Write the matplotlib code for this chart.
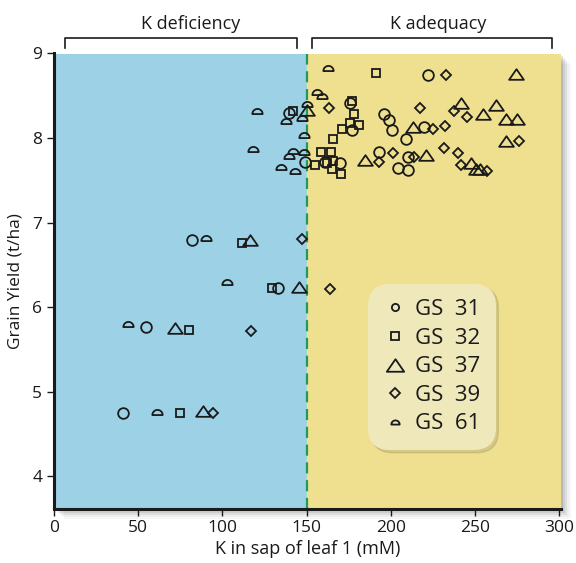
#!/usr/bin/env python3
# Grain yield vs K in sap of leaf 1, five growth stages, K deficiency / adequacy zones
import numpy as np
import matplotlib
matplotlib.use("Agg")
import matplotlib.pyplot as plt
import matplotlib.path as mpath
import matplotlib.patches as mpatches
from matplotlib.lines import Line2D

plt.rcParams['font.family'] = ['Open Sans', 'DejaVu Sans']

# ---------------------------------------------------------------------------
# Data
# ---------------------------------------------------------------------------
gs31_x = [41, 54.4, 133, 82, 139.6, 149.3, 175.7, 176.7, 160.8, 169.5, 196, 198.6,
          200.4, 208.9, 193, 210.3, 204.5, 210.3, 219.6, 222.2]
gs31_y = [4.75, 5.77, 6.23, 6.79, 8.30, 7.72, 8.42, 8.10, 7.72, 7.71, 8.29, 8.21,
          8.09, 7.99, 7.83, 7.78, 7.65, 7.62, 8.13, 8.74]

gs32_x = [74.8, 80.3, 129.4, 111.8, 141.6, 191.1, 176.7, 178.4, 175.7, 180.8, 170.7,
          165.6, 158.3, 164.6, 155.2, 161.8, 165.8, 164.8, 170.1]
gs32_y = [4.75, 5.73, 6.23, 6.76, 8.32, 8.77, 8.44, 8.29, 8.18, 8.15, 8.11,
          7.99, 7.84, 7.84, 7.68, 7.71, 7.73, 7.63, 7.58]

gs37_x = [88.2, 71.6, 145.2, 116.3, 150, 184.8, 213.3, 220.8, 241.7, 254.9, 262.7,
          268.1, 274.6, 274, 268.6, 247.5, 250.6, 253]
gs37_y = [4.77, 5.75, 6.24, 6.80, 8.33, 7.74, 8.13, 7.80, 8.42, 8.28, 8.39,
          8.22, 8.23, 8.76, 7.97, 7.70, 7.64, 7.64]

gs39_x = [94.6, 117, 163.8, 147, 163.2, 193, 201, 214, 217.2, 224.9, 232, 237.5,
          245.2, 231.5, 239.7, 241.5, 257.2, 276, 232.6]
gs39_y = [4.75, 5.72, 6.22, 6.81, 8.35, 7.72, 7.82, 7.78, 8.36, 8.11, 8.14, 8.32,
          8.25, 7.88, 7.82, 7.68, 7.61, 7.96, 8.74]

gs61_x = [61.3, 44.1, 103, 90, 120.7, 118, 138, 147.5, 148.2, 150.3, 139.6, 142,
          148.3, 134.5, 142.8, 155.9, 159, 162.8]
gs61_y = [4.76, 5.80, 6.30, 6.82, 8.32, 7.87, 8.20, 8.24, 8.04, 8.40, 7.79, 7.85,
          7.84, 7.66, 7.61, 8.54, 8.50, 8.83]

stage_labels = ["GS  31", "GS  32", "GS  37", "GS  39", "GS  61"]
threshold = 150
x_ticks = [0, 50, 100, 150, 200, 250, 300]
y_ticks = [4, 5, 6, 7, 8, 9]

# ---------------------------------------------------------------------------
# Custom marker shapes
# ---------------------------------------------------------------------------
theta = np.linspace(0, np.pi, 40)
dome = np.column_stack([np.cos(theta), np.sin(theta) - 0.5])
half_circle = mpath.Path(np.vstack([dome, dome[:1]]), closed=True)
flat_tri = mpath.Path([(-1, -0.72), (1, -0.72), (0, 0.72), (-1, -0.72)], closed=True)

blue = "#9dd1e6"
yellow = "#eee08e"
ink = "#1a1a1a"

fig = plt.figure(figsize=(5.76, 5.63), dpi=100)
ax = fig.add_axes([54 / 576, 1 - 508.5 / 563, 507 / 576, 455 / 563])

# soft drop shadow behind the plot area
for i, a in enumerate([0.10, 0.08, 0.06, 0.04, 0.03]):
    off = (i + 1) * 2
    fig.patches.append(mpatches.Rectangle(
        ((54 + off) / 576, 1 - (508.5 + off) / 563), 507 / 576, 455 / 563,
        transform=fig.transFigure, facecolor="black", alpha=a,
        edgecolor="none", zorder=-1))

ax.axvspan(0, threshold, color=blue, zorder=0)
ax.axvspan(threshold, 301, color=yellow, zorder=0)
ax.axvline(threshold, color="#1f9a5c", lw=1.6, ls=(0, (5, 3)), zorder=1)

common = dict(ls="none", mfc="none", mec=ink, mew=1.3, zorder=3)
ax.plot(gs31_x, gs31_y, marker="o", ms=7.7, **common)
ax.plot(gs32_x, gs32_y, marker="s", ms=6.3, **common)
ax.plot(gs37_x, gs37_y, marker=flat_tri, ms=10.6, **common)
ax.plot(gs39_x, gs39_y, marker="D", ms=5.6, **common)
ax.plot(gs61_x, gs61_y, marker=half_circle, ms=7.4, **common)

ax.set_xlim(0, 301)
ax.set_ylim(3.62, 9.0)
ax.set_xticks(x_ticks)
ax.set_yticks(y_ticks)
ax.tick_params(direction="out", length=5, width=1, labelsize=12.5, colors=ink)
for side in ["top", "right"]:
    ax.spines[side].set_visible(False)
for side in ["left", "bottom"]:
    ax.spines[side].set_linewidth(2.2)
    ax.spines[side].set_color(ink)
    ax.spines[side].set_zorder(4)

ax.set_xlabel("K in sap of leaf 1 (mM)", fontsize=13, color=ink, labelpad=3)
ax.set_ylabel("Grain Yield (t/ha)", fontsize=12.5, color=ink, labelpad=6)

# zone brackets above the plot
brackets = [(6.5, 144.2, 81, "K deficiency"), (153.4, 295.6, 228, "K adequacy")]
for x0, x1, xt, txt in brackets:
    ax.plot([x0, x0, x1, x1], [9.067, 9.184, 9.184, 9.067], color=ink, lw=1.2,
            clip_on=False, zorder=5)
    ax.text(xt, 9.35, txt, ha="center", va="center", fontsize=13, color=ink,
            clip_on=False)

# legend
handles = [
    Line2D([], [], marker="o", ms=5.2, **common),
    Line2D([], [], marker="s", ms=5.2, **common),
    Line2D([], [], marker=flat_tri, ms=12.5, **common),
    Line2D([], [], marker="D", ms=5.0, **common),
    Line2D([], [], marker=half_circle, ms=6.0, **common),
]
leg = ax.legend(handles, stage_labels, loc="upper left",
                bbox_to_anchor=(0.615, 0.499), fontsize=16,
                frameon=True, fancybox=True, facecolor="#efe8bb",
                edgecolor="none", framealpha=1, labelspacing=0.34,
                handlelength=1.0, handletextpad=0.4, borderpad=0.5,
                borderaxespad=0.3, shadow={"alpha": 0.15})
leg.get_frame().set_boxstyle("round", pad=0.2, rounding_size=1.0)
for t in leg.get_texts():
    t.set_color(ink)

fig.savefig("out.png", dpi=100)
